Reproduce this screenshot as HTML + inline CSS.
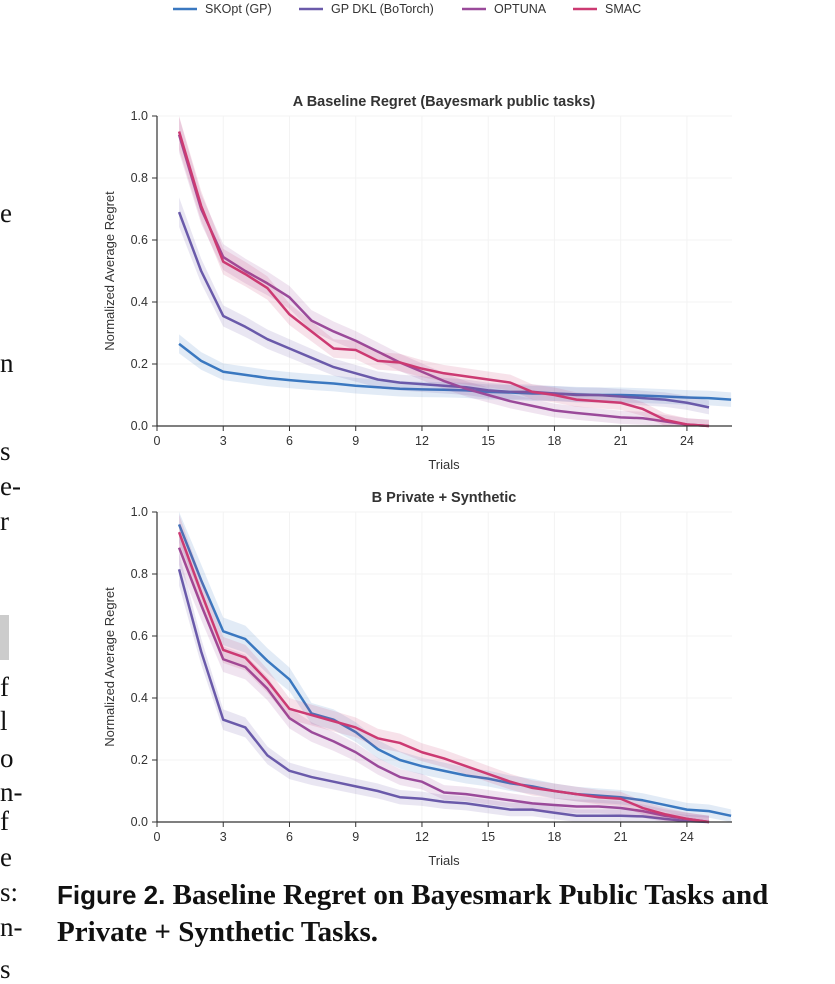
<!DOCTYPE html>
<html><head><meta charset="utf-8">
<style>
body{margin:0;width:835px;height:978px;background:#fff;overflow:hidden;position:relative;font-family:"Liberation Sans",sans-serif}
.side{position:absolute;left:0;font-family:"Liberation Serif",serif;font-size:27px;color:#111;line-height:1}
.cap{position:absolute;left:57px;font-family:"Liberation Serif",serif;font-weight:bold;font-size:29px;color:#111;white-space:nowrap}
.cap .fig{font-family:"Liberation Sans",sans-serif;font-size:26px}
</style></head><body>
<div class="side" style="top:200px">e</div>
<div class="side" style="top:350px">n</div>
<div class="side" style="top:438px">s</div>
<div class="side" style="top:473px">e-</div>
<div class="side" style="top:508px">r</div>
<div style="position:absolute;left:0;top:615px;width:9px;height:45px;background:#ccc"></div>
<div class="side" style="top:674px">f</div>
<div class="side" style="top:708px">l</div>
<div class="side" style="top:745px">o</div>
<div class="side" style="top:779px">n-</div>
<div class="side" style="top:808px">f</div>
<div class="side" style="top:844px">e</div>
<div class="side" style="top:879px">s:</div>
<div class="side" style="top:914px">n-</div>
<div class="side" style="top:956px">s</div>
<div class="cap" style="top:877px;line-height:37px"><span class="fig">Figure 2.</span> Baseline Regret on Bayesmark Public Tasks and<br>Private + Synthetic Tasks.</div>
<svg id="svg" width="835" height="870" style="position:absolute;left:0;top:0"></svg>
<script>
const seriesNames=["SKOpt (GP)","GP DKL (BoTorch)","OPTUNA","SMAC"];
const xTicks=[0,3,6,9,12,15,18,21,24];
const yTicks=[0.0,0.2,0.4,0.6,0.8,1.0];
const topSKOpt=[0.265,0.21,0.175,0.165,0.155,0.148,0.142,0.137,0.13,0.125,0.12,0.118,0.117,0.115,0.11,0.108,0.105,0.105,0.102,0.1,0.1,0.098,0.095,0.092,0.09,0.085];
const topGPDKL=[0.69,0.5,0.355,0.32,0.28,0.25,0.22,0.19,0.17,0.15,0.14,0.135,0.13,0.125,0.115,0.11,0.11,0.105,0.1,0.1,0.095,0.09,0.085,0.075,0.06];
const topOptuna=[0.94,0.7,0.545,0.5,0.46,0.415,0.34,0.305,0.275,0.24,0.205,0.175,0.145,0.12,0.1,0.08,0.065,0.05,0.042,0.035,0.028,0.025,0.015,0.005,0.0];
const topSMAC=[0.95,0.71,0.53,0.49,0.445,0.36,0.305,0.25,0.245,0.21,0.205,0.185,0.17,0.16,0.15,0.14,0.11,0.1,0.085,0.08,0.075,0.055,0.02,0.005,0.0];
const botSKOpt=[0.96,0.78,0.615,0.59,0.52,0.46,0.35,0.33,0.29,0.235,0.2,0.18,0.165,0.15,0.14,0.125,0.115,0.1,0.09,0.085,0.08,0.07,0.055,0.04,0.035,0.02];
const botGPDKL=[0.815,0.55,0.33,0.305,0.215,0.165,0.145,0.13,0.115,0.1,0.08,0.075,0.065,0.06,0.05,0.04,0.04,0.03,0.02,0.02,0.02,0.018,0.01,0.003,0.0];
const botOptuna=[0.885,0.7,0.525,0.5,0.43,0.335,0.29,0.26,0.225,0.18,0.145,0.13,0.095,0.09,0.08,0.07,0.06,0.055,0.05,0.05,0.045,0.035,0.02,0.01,0.0];
const botSMAC=[0.935,0.74,0.555,0.53,0.455,0.365,0.345,0.325,0.305,0.27,0.255,0.225,0.205,0.18,0.155,0.13,0.11,0.1,0.09,0.08,0.075,0.045,0.025,0.01,0.0];
const colors=["#3a78c0","#6a5aaa","#9a4a9a","#cc3a72"];
const NS="http://www.w3.org/2000/svg";
const svg=document.getElementById('svg');
function mk(tag,attrs,parent){const e=document.createElementNS(NS,tag);for(const k in attrs)e.setAttribute(k,attrs[k]);(parent||svg).appendChild(e);return e;}
const legX=[173,299,462,573];
seriesNames.forEach((n,i)=>{
  const g=mk('g',{});
  
  
  mk('line',{x1:legX[i],x2:legX[i]+24,y1:9,y2:9,stroke:colors[i],'stroke-width':2.5},g);
  const t=mk('text',{x:legX[i]+32,y:13,'font-size':12.5,fill:'#333'},g);t.textContent=n;
});
function panel(top,title,data,pname){
  const x0=157,sx=22.08,y0=top+310,sy=310,xEnd=732;
  const X=v=>x0+v*sx, Y=v=>y0-v*sy;
  const g=mk('g',{});
  
  
  xTicks.forEach(t=>{mk('line',{x1:X(t),x2:X(t),y1:top,y2:y0,stroke:'#f3f3f3'},g);});
  yTicks.forEach(t=>{mk('line',{x1:x0,x2:xEnd,y1:Y(t),y2:Y(t),stroke:'#f3f3f3'},g);});
  data.forEach((arr,i)=>{
    const up=arr.map((v,k)=>X(k+1)+','+Y(Math.min(1,v+0.02+v*0.04))).join(' ');
    const dn=arr.map((v,k)=>X(k+1)+','+Y(Math.max(0,v-0.02-v*0.04))).reverse().join(' ');
    const b=mk('polygon',{points:up+' '+dn,fill:colors[i],'fill-opacity':0.15},g);
    
    
    const l=mk('polyline',{points:arr.map((v,k)=>X(k+1)+','+Y(v)).join(' '),fill:'none',stroke:colors[i],'stroke-width':2.5,'stroke-linejoin':'round'},g);
    
    
  });
  mk('line',{x1:x0,x2:x0,y1:top,y2:y0,stroke:'#333','stroke-width':1.2},g);
  mk('line',{x1:x0,x2:xEnd,y1:y0,y2:y0,stroke:'#333','stroke-width':1.2},g);
  xTicks.forEach(t=>{mk('line',{x1:X(t),x2:X(t),y1:y0,y2:y0+5,stroke:'#333'},g);
    const tx=mk('text',{x:X(t),y:y0+19,'font-size':12.5,fill:'#333','text-anchor':'middle'},g);tx.textContent=t;});
  yTicks.forEach(t=>{mk('line',{x1:x0-5,x2:x0,y1:Y(t),y2:Y(t),stroke:'#333'},g);
    const tx=mk('text',{x:x0-9,y:Y(t)+4,'font-size':12.5,fill:'#333','text-anchor':'end'},g);tx.textContent=t.toFixed(1);});
  const xt=mk('text',{x:444,y:y0+43,'font-size':13,fill:'#333','text-anchor':'middle'},g);xt.textContent='Trials';
  
  const yt=mk('text',{x:0,y:0,'font-size':13,fill:'#333','text-anchor':'middle',transform:`translate(114,${top+155}) rotate(-90)`},g);yt.textContent='Normalized Average Regret';
  
  const tt=mk('text',{x:444,y:top-10,'font-size':14.5,'font-weight':'bold',fill:'#333','text-anchor':'middle'},g);tt.textContent=title;
  
}
panel(116,'A  Baseline Regret (Bayesmark public tasks)',[topSKOpt,topGPDKL,topOptuna,topSMAC],'panel-a');
panel(512,'B  Private + Synthetic',[botSKOpt,botGPDKL,botOptuna,botSMAC],'panel-b');
</script>
</body></html>
